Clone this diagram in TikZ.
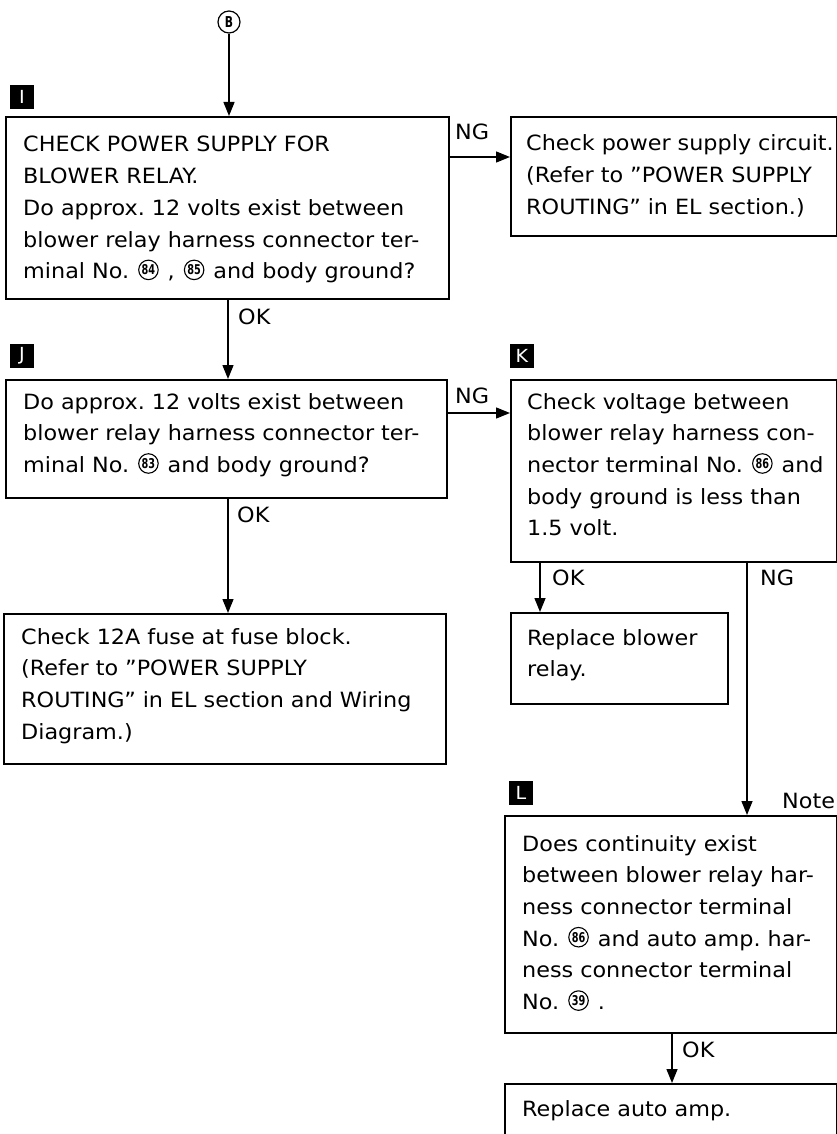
\documentclass[tikz,border=0pt]{standalone}
\usepackage{fontspec}
\setmainfont{DejaVu Sans}[FakeStretch=1.062]
\newfontfamily\numfont{DejaVu Sans}[FakeStretch=0.72]
\usepackage{tikz}
\usetikzlibrary{arrows.meta, positioning}
\frenchspacing

% circled terminal number
\newcommand{\cnum}[1]{\kern2pt\tikz[baseline={([yshift=-4pt]cn.base)}]
  \node[circle, draw, line width=1.1pt, inner sep=0pt, minimum size=19.5pt,
        text width={}, align=center, anchor=base,
        font=\fontsize{13.5}{13.5}\numfont\bfseries] (cn) {#1};\kern2pt\relax}

\begin{document}
\begin{tikzpicture}[
    x=1pt, y=-1pt,
    every node/.style={font=\fontsize{21}{31.7}\selectfont},
    box/.style={draw, line width=1.8pt, inner sep=0pt, anchor=north west},
    txt/.style={anchor=base west, inner sep=0pt, align=left},
    tag/.style={fill=black, text=white, minimum size=24pt, inner sep=0pt,
                font=\fontsize{18}{18}\selectfont},
    lbl/.style={anchor=base west, inner sep=0pt},
    arr/.style={-{Triangle[length=14pt, width=11pt]}, line width=1.4pt}
  ]
  \useasboundingbox (0,0) rectangle (837,1134);

  % Entry point
  \node[circle, draw, line width=1.2pt, minimum size=22pt, inner sep=0pt,
        font=\fontsize{15}{15}\numfont\bfseries] (B) at (229,22) {B};

  % Step I
  \node[tag] (tagI) at (22,97) {I};
  \node[box, minimum width=443, minimum height=182] (chkI) at (5,116) {};
  \node[txt, text width=430pt] (tI) at (23,152)
    {CHECK POWER SUPPLY FOR\\
     BLOWER RELAY.\\
     Do approx. 12 volts exist between\\
     blower relay harness connector ter-\\
     minal No. \cnum{84} , \cnum{85} and body ground?};

  \node[box, minimum width=326, minimum height=119] (psc) at (510,116) {};
  \node[txt, text width=330pt] (tpsc) at (526,151)
    {Check power supply circuit.\\
     (Refer to ''POWER SUPPLY\\
     ROUTING'' in EL section.)};

  % Step J
  \node[tag] (tagJ) at (22,356) {J};
  \node[box, minimum width=441, minimum height=118] (chkJ) at (5,379) {};
  \node[txt, text width=430pt] (tJ) at (23,409)
    {Do approx. 12 volts exist between\\
     blower relay harness connector ter-\\
     minal No. \cnum{83} and body ground?};

  \node[box, minimum width=442, minimum height=150] (fuse) at (3,613) {};
  \node[txt, text width=430pt] (tfuse) at (21,644)
    {Check 12A fuse at fuse block.\\
     (Refer to ''POWER SUPPLY\\
     ROUTING'' in EL section and Wiring\\
     Diagram.)};

  % Step K
  \node[tag] (tagK) at (522,356) {K};
  \node[box, minimum width=326, minimum height=182] (chkK) at (510,379) {};
  \node[txt, text width=320pt] (tK) at (527,409)
    {Check voltage between\\
     blower relay harness con-\\
     nector terminal No. \cnum{86} and\\
     body ground is less than\\
     1.5 volt.};

  \node[box, minimum width=217, minimum height=91] (relay) at (510,612) {};
  \node[txt, text width=200pt] (trelay) at (527,645)
    {Replace blower\\
     relay.};

  % Step L
  \node[tag] (tagL) at (521,793) {L};
  \node[lbl] (note) at (782,808) {Note};
  \node[box, minimum width=332, minimum height=217] (chkL) at (504,815) {};
  \node[txt, text width=320pt] (tL) at (522,851)
    {Does continuity exist\\
     between blower relay har-\\
     ness connector terminal\\
     No. \cnum{86} and auto amp. har-\\
     ness connector terminal\\
     No. \cnum{39} .};

  \node[box, minimum width=332, minimum height=60] (amp) at (504,1083) {};
  \node[txt, text width=320pt] (tamp) at (522,1116) {Replace auto amp.};

  % Branch points
  \coordinate (mainx) at (228,0);
  \coordinate (ngI) at (0,157);
  \coordinate (ngJ) at (0,413);
  \coordinate (okKx) at (540,0);
  \coordinate (ngKx) at (747,0);
  \coordinate (okLx) at (672,0);

  % Connectors
  \draw[arr] (B) -- (B |- chkI.north);
  \draw[arr] (chkI.east |- ngI) -- (psc.west |- ngI);
  \draw[arr] (chkI.south -| mainx) -- (chkJ.north -| mainx);
  \draw[arr] (chkJ.east |- ngJ) -- (chkK.west |- ngJ);
  \draw[arr] (chkJ.south -| mainx) -- (fuse.north -| mainx);
  \draw[arr] (chkK.south -| okKx) -- (relay.north -| okKx);
  \draw[arr] (chkK.south -| ngKx) -- (chkL.north -| ngKx);
  \draw[arr] (chkL.south -| okLx) -- (amp.north -| okLx);

  % Branch labels
  \node[lbl] (ngIl) at (455,140) {NG};
  \node[lbl] (okIl) at (238,324) {OK};
  \node[lbl] (ngJl) at (455,403) {NG};
  \node[lbl] (okJl) at (237,522) {OK};
  \node[lbl] (okKl) at (552,585) {OK};
  \node[lbl] (ngKl) at (760,585) {NG};
  \node[lbl] (okLl) at (682,1057) {OK};
\end{tikzpicture}
\end{document}
